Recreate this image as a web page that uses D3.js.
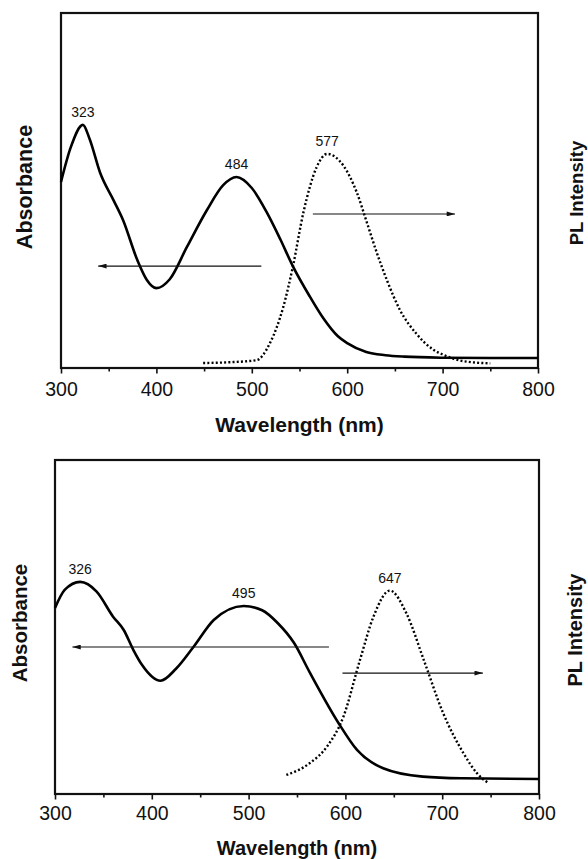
<!DOCTYPE html>
<html>
<head>
<meta charset="utf-8">
<script src="https://cdn.jsdelivr.net/npm/d3@7"></script>
<style>
  body { margin: 0; background: #fff; }
  svg { display: block; font-family: "Liberation Sans", Arial, sans-serif; }
</style>
</head>
<body>
<div id="chart"></div>
<script>
// ---- data (wavelength in nm, intensity in arbitrary units) ----
var xTicks = [300, 400, 500, 600, 700, 800];
var xMinorTicks = [350, 450, 550, 650, 750];

// panel a
var absWlA  = [300, 310, 323, 330, 341, 355, 365, 380, 390, 400, 414, 432, 453, 470, 484, 500, 516, 530, 543, 560, 575, 590, 600, 620, 640, 660, 700, 750, 800];
var absValA = [0.524, 0.62, 0.685, 0.645, 0.55, 0.473, 0.417, 0.304, 0.248, 0.225, 0.25, 0.341, 0.445, 0.515, 0.538, 0.507, 0.437, 0.362, 0.287, 0.205, 0.14, 0.09, 0.07, 0.045, 0.036, 0.032, 0.029, 0.028, 0.028];
var plWlA   = [449, 475, 505, 519, 533, 543, 554, 568, 579, 596, 610, 620, 631, 642, 655, 673, 690, 701, 720, 750];
var plValA  = [0.014, 0.016, 0.022, 0.07, 0.172, 0.285, 0.437, 0.566, 0.603, 0.57, 0.495, 0.415, 0.325, 0.245, 0.165, 0.095, 0.052, 0.037, 0.02, 0.013];
var peakLabelsA = ["323", "484", "577"];
var peakWlA     = [323, 484, 579];
var peakValA    = [0.685, 0.538, 0.603];

// panel b
var absWlB  = [300, 310, 326, 343, 360, 371, 381, 390, 409, 425, 443, 464, 495, 514, 530, 547, 563, 593, 612, 639, 680, 720, 800];
var absValB = [0.557, 0.611, 0.635, 0.606, 0.531, 0.491, 0.431, 0.386, 0.339, 0.375, 0.44, 0.521, 0.563, 0.55, 0.512, 0.452, 0.365, 0.212, 0.132, 0.077, 0.052, 0.047, 0.045];
var plWlB   = [539, 563, 581, 598, 615, 629, 646, 663, 681, 701, 722, 736, 748];
var plValB  = [0.057, 0.092, 0.142, 0.232, 0.401, 0.531, 0.609, 0.541, 0.401, 0.242, 0.122, 0.062, 0.032];
var peakLabelsB = ["326", "495", "647"];
var peakWlB     = [326, 495, 646];
var peakValB    = [0.635, 0.563, 0.609];

// arrows: [fromWl, toWl, level]
var arrowsA = [[510, 339, 0.287], [564, 713, 0.434]];
var arrowsB = [[583, 318, 0.44], [597, 742, 0.362]];

var W = 588, H = 859;
var svg = d3.select("#chart").append("svg").attr("width", W).attr("height", H);

var defs = svg.append("defs");
defs.append("marker")
  .attr("id", "head")
  .attr("viewBox", "0 0 10 6")
  .attr("refX", 10).attr("refY", 3)
  .attr("markerWidth", 10).attr("markerHeight", 5)
  .attr("markerUnits", "userSpaceOnUse")
  .attr("orient", "auto")
  .append("path").attr("d", "M0,0 L10,3 L0,6 Z").attr("fill", "#111");

var panels = [
  { left: 61, right: 538, top: 13, bottom: 368, tickBase: 396, titleBase: 432, titleSize: 21,
    absX: 32, absY: 187, absSize: 21.5, plX: 583, plY: 193, plSize: 18.5,
    absWl: absWlA, absVal: absValA, plWl: plWlA, plVal: plValA,
    labels: peakLabelsA, lWl: peakWlA, lVal: peakValA, arrows: arrowsA },
  { left: 55, right: 539, top: 460, bottom: 794, tickBase: 820, titleBase: 855, titleSize: 20,
    absX: 27, absY: 623, absSize: 20.5, plX: 582, plY: 630, plSize: 20,
    absWl: absWlB, absVal: absValB, plWl: plWlB, plVal: plValB,
    labels: peakLabelsB, lWl: peakWlB, lVal: peakValB, arrows: arrowsB }
];

panels.forEach(function(p) {
  var x = d3.scaleLinear().domain([300, 800]).range([p.left, p.right]);
  var y = d3.scaleLinear().domain([0, 1]).range([p.bottom, p.top]);
  var g = svg.append("g");

  // minor ticks
  g.append("g")
    .attr("transform", "translate(0," + p.bottom + ")")
    .call(d3.axisBottom(x).tickValues(xMinorTicks).tickSize(3.5).tickFormat(""))
    .call(function(a) {
      a.select(".domain").remove();
      a.selectAll("line").attr("stroke", "#111").attr("stroke-width", 1.6);
    });

  // major ticks with labels
  g.append("g")
    .attr("transform", "translate(0," + p.bottom + ")")
    .call(d3.axisBottom(x).tickValues(xTicks).tickSize(5.5).tickFormat(d3.format("d")))
    .call(function(a) {
      a.select(".domain").remove();
      a.selectAll("line").attr("stroke", "#111").attr("stroke-width", 1.6);
      a.selectAll("text")
        .attr("y", p.tickBase - p.bottom).attr("dy", null)
        .attr("fill", "#111")
        .style("font-size", "19.5px")
        .style("font-family", "'Liberation Sans', Arial, sans-serif");
    });

  // frame
  g.append("rect")
    .attr("x", p.left).attr("y", p.top)
    .attr("width", p.right - p.left).attr("height", p.bottom - p.top)
    .attr("fill", "none").attr("stroke", "#111").attr("stroke-width", 2.2);

  var line = d3.line()
    .x(function(d) { return x(d[0]); })
    .y(function(d) { return y(d[1]); })
    .curve(d3.curveMonotoneX);

  // absorbance (solid)
  g.append("path")
    .datum(d3.zip(p.absWl, p.absVal))
    .attr("d", line)
    .attr("fill", "none").attr("stroke", "#000").attr("stroke-width", 2.6)
    .attr("stroke-linejoin", "round");

  // PL (dotted)
  g.append("path")
    .datum(d3.zip(p.plWl, p.plVal))
    .attr("d", line)
    .attr("fill", "none").attr("stroke", "#000").attr("stroke-width", 2.4)
    .attr("stroke-dasharray", "2,2.2");

  // arrows
  g.selectAll(".arrow").data(p.arrows).enter().append("line")
    .attr("class", "arrow")
    .attr("x1", function(d) { return x(d[0]); })
    .attr("x2", function(d) { return x(d[1]); })
    .attr("y1", function(d) { return y(d[2]); })
    .attr("y2", function(d) { return y(d[2]); })
    .attr("stroke", "#111").attr("stroke-width", 1.1)
    .attr("marker-end", "url(#head)");

  // peak labels
  g.selectAll(".peak").data(p.labels).enter().append("text")
    .attr("class", "peak")
    .attr("x", function(d, i) { return x(p.lWl[i]); })
    .attr("y", function(d, i) { return y(p.lVal[i]) - 8; })
    .attr("text-anchor", "middle")
    .style("font-size", "14px")
    .attr("fill", "#111")
    .text(function(d) { return d; });

  // axis titles
  g.append("text")
    .attr("x", (p.left + p.right) / 2).attr("y", p.titleBase)
    .attr("text-anchor", "middle")
    .style("font-size", p.titleSize + "px").style("font-weight", "bold")
    .attr("fill", "#111")
    .text("Wavelength (nm)");

  g.append("text")
    .attr("transform", "translate(" + p.absX + "," + p.absY + ") rotate(-90)")
    .attr("text-anchor", "middle")
    .style("font-size", p.absSize + "px").style("font-weight", "bold")
    .attr("fill", "#111")
    .text("Absorbance");

  g.append("text")
    .attr("transform", "translate(" + p.plX + "," + p.plY + ") rotate(-90)")
    .attr("text-anchor", "middle")
    .style("font-size", p.plSize + "px").style("font-weight", "bold")
    .attr("fill", "#111")
    .text("PL Intensity");
});
</script>
</body>
</html>
